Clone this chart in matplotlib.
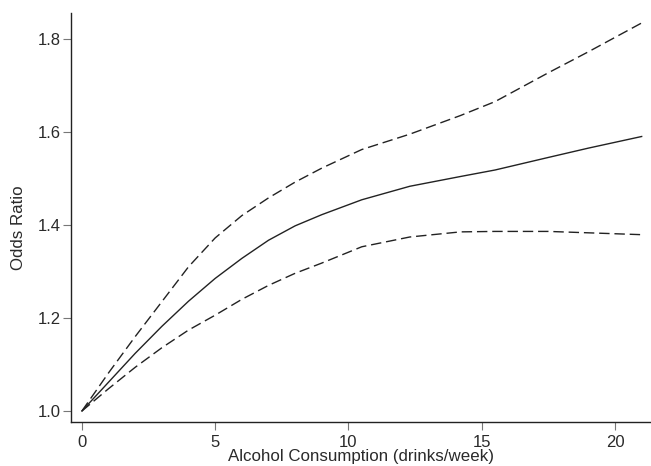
import matplotlib

matplotlib.use("Agg")
import matplotlib.pyplot as plt

plt.rcParams["font.family"] = ["Liberation Sans", "DejaVu Sans"]

# drinks/week and odds ratio (estimate, upper and lower 95% CI)
drinks = [0, 1, 2, 3, 4, 5, 6, 7, 8, 9, 10.5, 12.3, 14.2, 15.5, 17.5, 19, 21]
odds = [1.0, 1.062, 1.124, 1.182, 1.236, 1.285, 1.328, 1.367, 1.398, 1.422, 1.454,
        1.483, 1.504, 1.518, 1.545, 1.565, 1.590]
upper = [1.0, 1.082, 1.160, 1.235, 1.310, 1.372, 1.420, 1.458, 1.492, 1.522, 1.562,
         1.595, 1.635, 1.665, 1.727, 1.772, 1.834]
lower = [1.0, 1.048, 1.094, 1.136, 1.174, 1.206, 1.240, 1.270, 1.296, 1.318, 1.353,
         1.374, 1.385, 1.386, 1.386, 1.383, 1.379]

xticks = [0, 5, 10, 15, 20]
yticks = [1.0, 1.2, 1.4, 1.6, 1.8]

fig = plt.figure(figsize=(6.51, 4.66), dpi=100)
ax = fig.add_axes([0.1086, 0.095, 0.8914, 0.8777])

dash = (0, (7.5, 3.5))
ax.plot(drinks, odds, color="#222222", lw=1.0)
ax.plot(drinks, upper, color="#222222", lw=1.0, ls=dash)
ax.plot(drinks, lower, color="#222222", lw=1.0, ls=dash)

ax.set_xlim(-0.42, 21.35)
ax.set_ylim(0.977, 1.856)
ax.set_xticks(xticks)
ax.set_yticks(yticks)
ax.set_yticklabels([f"{v:.1f}" for v in yticks])
for side in ("top", "right"):
    ax.spines[side].set_visible(False)
for side in ("left", "bottom"):
    ax.spines[side].set_linewidth(1.0)
    ax.spines[side].set_color("#222222")
ax.tick_params(length=5.5, width=0.8, labelsize=12, colors="#777777", labelcolor="#2a2a2a")
ax.tick_params(axis="x", pad=4)
ax.tick_params(axis="y", pad=1.5)

# the label sits tight against the bottom edge, as in the source figure
ax.set_xlabel("Alcohol Consumption (drinks/week)", fontsize=12.2, color="#2a2a2a")
ax.set_ylabel("Odds Ratio", fontsize=12.2, color="#2a2a2a")
ax.xaxis.set_label_coords(0.5, -0.066)
ax.yaxis.set_label_coords(-0.077, 0.475)

fig.savefig("out.png", dpi=100)
